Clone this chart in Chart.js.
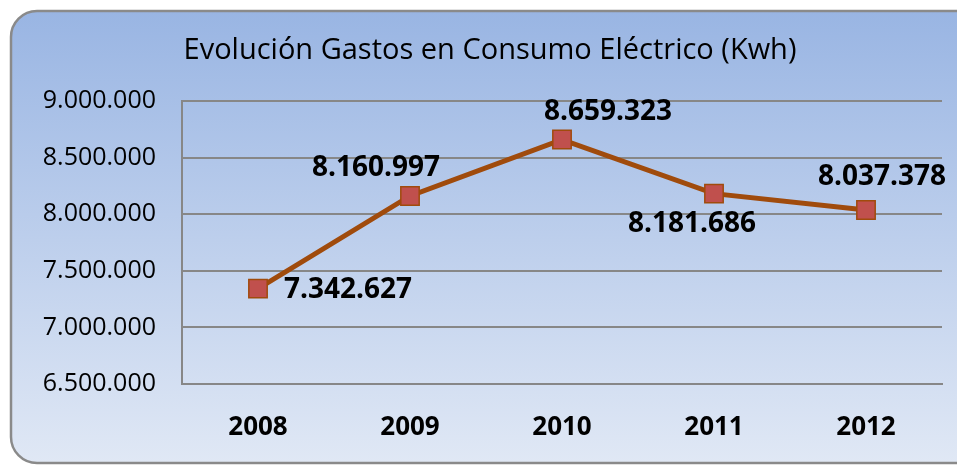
<!DOCTYPE html>
<html>
<head>
<meta charset="utf-8">
<script src="https://cdn.jsdelivr.net/npm/chart.js@4/dist/chart.umd.min.js"></script>
<style>
html,body{margin:0;padding:0;background:#fff;}
#wrap{width:957px;height:465px;position:relative;}
</style>
</head>
<body>
<div id="wrap"><canvas id="c" width="957" height="465"></canvas></div>
<script>
const categories = ['2008', '2009', '2010', '2011', '2012'];
const consumo = [7342627, 8160997, 8659323, 8181686, 8037378];
const valueLabels = ['7.342.627', '8.160.997', '8.659.323', '8.181.686', '8.037.378'];
const titleText = 'Evolución Gastos en Consumo Eléctrico (Kwh)';

function fmt(v) {
  return Math.round(v).toString().replace(/\B(?=(\d{3})+(?!\d))/g, '.');
}

const framePlugin = {
  id: 'frame',
  beforeDraw(chart) {
    const ctx = chart.ctx;
    const x = 11, y = 11, w = 980, h = 452, r = 26;
    ctx.save();
    const g = ctx.createLinearGradient(0, y, 0, y + h);
    g.addColorStop(0, '#99b5e3');
    g.addColorStop(1, '#e0e8f5');
    ctx.beginPath();
    ctx.moveTo(x + r, y);
    ctx.lineTo(x + w - r, y);
    ctx.arcTo(x + w, y, x + w, y + r, r);
    ctx.lineTo(x + w, y + h - r);
    ctx.arcTo(x + w, y + h, x + w - r, y + h, r);
    ctx.lineTo(x + r, y + h);
    ctx.arcTo(x, y + h, x, y + h - r, r);
    ctx.lineTo(x, y + r);
    ctx.arcTo(x, y, x + r, y, r);
    ctx.closePath();
    ctx.fillStyle = g;
    ctx.fill();
    ctx.lineWidth = 2.5;
    ctx.strokeStyle = '#8a8a8a';
    ctx.stroke();
    // title
    ctx.font = '29px "Open Sans", sans-serif';
    ctx.fillStyle = '#000';
    ctx.textAlign = 'center';
    ctx.textBaseline = 'alphabetic';
    ctx.fillText(titleText, 490, 59);
    ctx.restore();
  }
};

const labelPlugin = {
  id: 'valueLabels',
  afterDatasetsDraw(chart, args, opts) {
    const ctx = chart.ctx;
    const meta = chart.getDatasetMeta(0);
    ctx.save();
    ctx.font = 'bold 28px "Open Sans", sans-serif';
    ctx.fillStyle = '#000';
    ctx.textAlign = 'center';
    ctx.textBaseline = 'middle';
    meta.data.forEach((pt, i) => {
      const o = opts.offsets[i];
      ctx.fillText(valueLabels[i], pt.x + o[0], pt.y + o[1]);
    });
    ctx.restore();
  }
};

new Chart(document.getElementById('c'), {
  type: 'line',
  data: {
    labels: categories,
    datasets: [{
      data: consumo,
      borderColor: '#a04b0c',
      borderWidth: 5,
      pointStyle: 'rect',
      pointRadius: 13,
      pointHoverRadius: 13,
      pointBackgroundColor: '#c0504d',
      pointBorderColor: '#a04b0c',
      pointBorderWidth: 1.5,
      tension: 0,
      fill: false
    }]
  },
  options: {
    responsive: false,
    animation: false,
    events: [],
    layout: { padding: { top: 101, right: 15, bottom: 0, left: 0 } },
    plugins: {
      legend: { display: false },
      tooltip: { enabled: false },
      title: { display: false },
      valueLabels: { offsets: [[90, 1], [-34, -28], [46, -28], [-22, 30], [16, -33]] }
    },
    scales: {
      x: {
        offset: true,
        afterFit(s) { s.height = 81; },
        grid: { display: false, drawTicks: false },
        border: { display: true, color: '#878787', width: 2 },
        ticks: {
          color: '#000',
          font: { family: '"Open Sans", sans-serif', size: 26, weight: 'bold' },
          padding: 28
        }
      },
      y: {
        min: 6500000,
        max: 9000000,
        afterFit(s) { s.width = 182; },
        grid: { color: '#878787', lineWidth: 2, drawTicks: false },
        border: { display: true, color: '#878787', width: 2 },
        ticks: {
          stepSize: 500000,
          color: '#000',
          padding: 26,
          font: { family: '"Open Sans", sans-serif', size: 25 },
          callback: v => fmt(v)
        }
      }
    }
  },
  plugins: [framePlugin, labelPlugin]
});
</script>
</body>
</html>
